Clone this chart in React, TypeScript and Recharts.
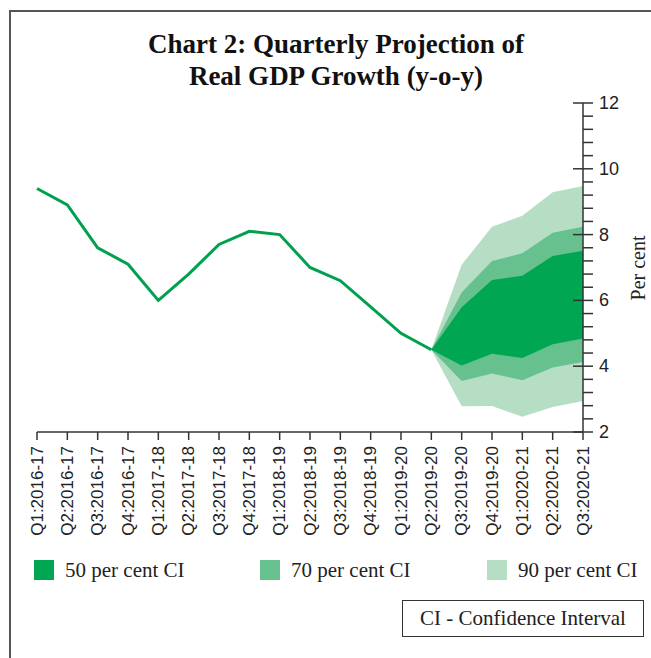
import { ComposedChart, Area, Line, XAxis, YAxis } from 'recharts'

const quarters = [
  'Q1:2016-17', 'Q2:2016-17', 'Q3:2016-17', 'Q4:2016-17',
  'Q1:2017-18', 'Q2:2017-18', 'Q3:2017-18', 'Q4:2017-18',
  'Q1:2018-19', 'Q2:2018-19', 'Q3:2018-19', 'Q4:2018-19',
  'Q1:2019-20', 'Q2:2019-20', 'Q3:2019-20', 'Q4:2019-20',
  'Q1:2020-21', 'Q2:2020-21', 'Q3:2020-21',
]

// actual growth up to Q2:2019-20
const actual = [9.4, 8.9, 7.6, 7.1, 6.0, 6.8, 7.7, 8.1, 8.0, 7.0, 6.6, 5.8, 5.0, 4.5]

// fan bands start at the last actual quarter (Q2:2019-20)
const fanStart = 13
const ci90Low = [4.5, 2.78, 2.79, 2.46, 2.76, 2.94]
const ci90High = [4.5, 7.08, 8.24, 8.57, 9.29, 9.48]
const ci70Low = [4.5, 3.55, 3.78, 3.57, 3.96, 4.13]
const ci70High = [4.5, 6.24, 7.2, 7.43, 8.06, 8.24]
const ci50Low = [4.5, 4.02, 4.38, 4.25, 4.67, 4.84]
const ci50High = [4.5, 5.79, 6.62, 6.75, 7.35, 7.51]

const yMajorTicks = [2, 4, 6, 8, 10, 12]
const legendItems = ['50 per cent CI', '70 per cent CI', '90 per cent CI']

const C50 = '#00a651'
const C70 = '#66c18f'
const C90 = '#b5dec4'
const LINE = '#00a14e'
const AXIS = '#333333'

const band = (lo: number[], hi: number[], i: number) => {
  const j = i - fanStart
  return j >= 0 && j < lo.length ? [lo[j], hi[j]] : undefined
}

const data = quarters.map((q, i) => ({
  q,
  actual: i < actual.length ? actual[i] : undefined,
  ci90: band(ci90Low, ci90High, i),
  ci70: band(ci70Low, ci70High, i),
  ci50: band(ci50Low, ci50High, i),
}))

// minor ticks every 0.4 between the majors
const yTicks: number[] = []
yMajorTicks.forEach((t, i) => {
  yTicks.push(t)
  if (i < yMajorTicks.length - 1) {
    for (let k = 1; k < 5; k++) yTicks.push(+(t + k * 0.4).toFixed(1))
  }
})

const XTick = ({ x, y, payload }: any) => (
  <text
    x={x}
    y={y}
    transform={`rotate(-90, ${x}, ${y})`}
    textAnchor="end"
    dominantBaseline="central"
    fontSize={17}
    fill="#222"
    fontFamily="Liberation Sans, sans-serif"
  >
    {payload.value}
  </text>
)

const YTick = ({ x, y, payload }: any) => {
  const major = yMajorTicks.includes(payload.value)
  return (
    <g>
      <line x1={major ? x - 10 : x} x2={x + 10} y1={y} y2={y} stroke={AXIS} strokeWidth={1.5} />
      {major && (
        <text
          x={x + 16}
          y={y}
          dominantBaseline="central"
          fontSize={18}
          fill="#222"
          fontFamily="Liberation Sans, sans-serif"
        >
          {payload.value}
        </text>
      )}
    </g>
  )
}

const serif = 'Liberation Serif, serif'

export default function App() {
  return (
    <div style={{ position: 'absolute', left: 0, top: 0, width: 651, height: 658, background: '#fff', overflow: 'hidden' }}>
      <div
        style={{
          position: 'absolute', left: 9, top: 10, width: 660, height: 660,
          borderLeft: '2px solid #555', borderTop: '2px solid #555',
        }}
      />
      <div
        style={{
          position: 'absolute', left: 0, top: 28, width: 672, textAlign: 'center',
          fontFamily: serif, fontWeight: 'bold', fontSize: 27, lineHeight: '32px', color: '#111',
        }}
      >
        Chart 2: Quarterly Projection of
        <br />
        Real GDP Growth (y-o-y)
      </div>

      <div style={{ position: 'absolute', left: 0, top: 0 }}>
        <ComposedChart width={651} height={560} data={data} margin={{ top: 103, right: 0, left: 37, bottom: 0 }}>
          <XAxis
            dataKey="q"
            scale="point"
            padding={{ left: 0, right: 0 }}
            interval={0}
            height={128}
            tickSize={8}
            tickMargin={6}
            stroke={AXIS}
            strokeWidth={1.5}
            tickLine={{ stroke: AXIS, strokeWidth: 1.5 }}
            tick={<XTick />}
          />
          <YAxis
            orientation="right"
            domain={[2, 12]}
            ticks={yTicks}
            interval={0}
            width={68}
            tickSize={0}
            tickMargin={0}
            tickLine={false}
            stroke={AXIS}
            strokeWidth={1.5}
            tick={<YTick />}
          />
          <Area dataKey="ci90" stroke="none" fill={C90} fillOpacity={1} isAnimationActive={false} />
          <Area dataKey="ci70" stroke="none" fill={C70} fillOpacity={1} isAnimationActive={false} />
          <Area dataKey="ci50" stroke="none" fill={C50} fillOpacity={1} isAnimationActive={false} />
          <Line dataKey="actual" stroke={LINE} strokeWidth={3} dot={false} isAnimationActive={false} />
        </ComposedChart>
      </div>

      <div
        style={{
          position: 'absolute', left: 638, top: 268, transform: 'translate(-50%, -50%) rotate(-90deg)',
          fontFamily: serif, fontSize: 20, color: '#222', whiteSpace: 'nowrap',
        }}
      >
        Per cent
      </div>

      {legendItems.map((label, i) => (
        <div
          key={label}
          style={{ position: 'absolute', left: [34, 260, 487][i], top: 560, display: 'flex', alignItems: 'center' }}
        >
          <div style={{ width: 20, height: 20, background: [C50, C70, C90][i] }} />
          <span style={{ marginLeft: 11, fontFamily: serif, fontSize: 21, color: '#222', lineHeight: '20px' }}>{label}</span>
        </div>
      ))}

      <div
        style={{
          position: 'absolute', left: 402, top: 600, width: 240, height: 35,
          border: '1.5px solid #333', display: 'flex', alignItems: 'center', justifyContent: 'center',
          fontFamily: serif, fontSize: 21, color: '#222',
        }}
      >
        CI - Confidence Interval
      </div>
    </div>
  )
}
